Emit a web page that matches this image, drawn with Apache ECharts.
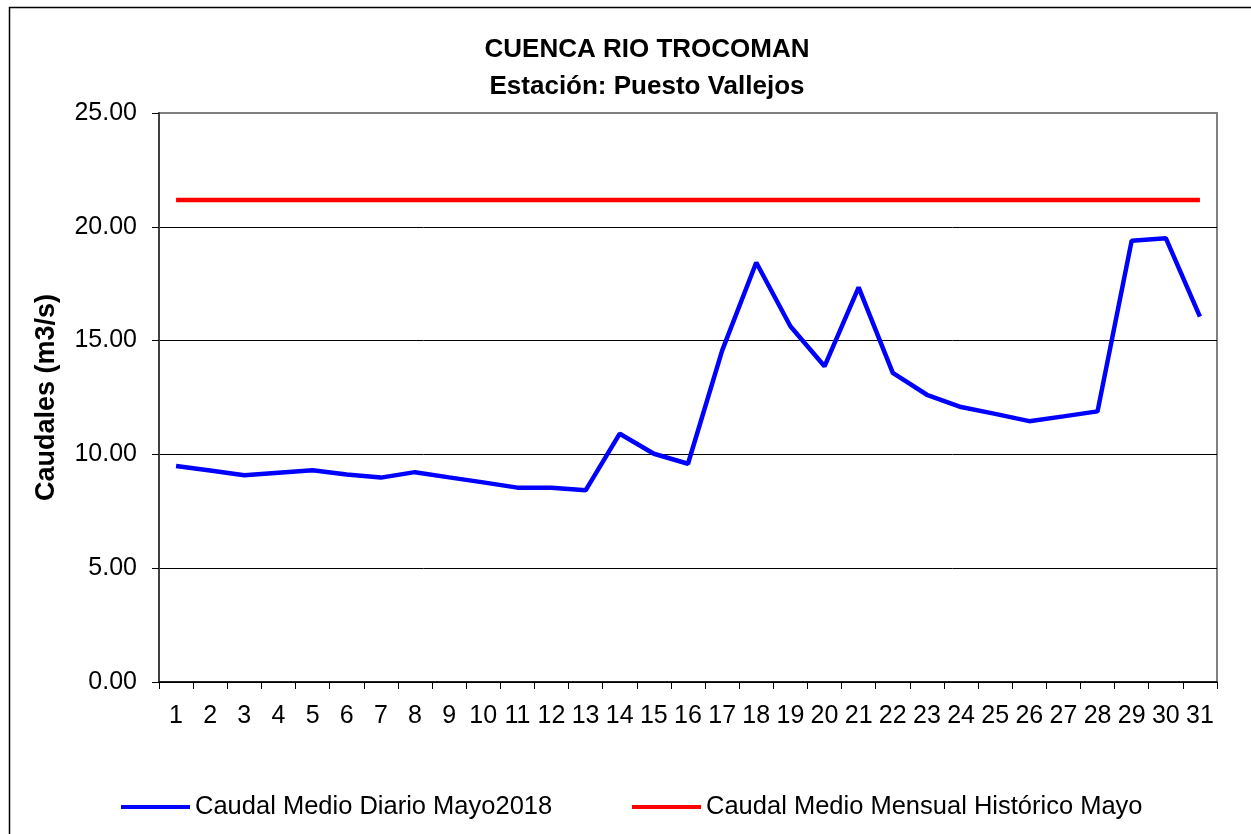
<!DOCTYPE html>
<html>
<head>
<meta charset="utf-8">
<script src="https://cdn.jsdelivr.net/npm/echarts@6/dist/echarts.min.js"></script>
<style>
  html, body { margin: 0; padding: 0; background: #fff; }
  #chart { width: 1251px; height: 834px; }
</style>
</head>
<body>
<div id="chart"></div>
<script>
// dias del mes (mayo 2018)
const days = ['1','2','3','4','5','6','7','8','9','10','11','12','13','14','15','16',
  '17','18','19','20','21','22','23','24','25','26','27','28','29','30','31'];

// caudal medio diario mayo 2018 (m3/s)
const dailyFlow = [9.49, 9.29, 9.08, 9.19, 9.30, 9.12, 8.98, 9.22, 8.99, 8.77, 8.54,
  8.53, 8.42, 10.91, 10.03, 9.59, 14.56, 18.43, 15.63, 13.87, 17.34, 13.58, 12.62,
  12.08, 11.78, 11.46, 11.67, 11.89, 19.39, 19.50, 16.05];

// caudal medio mensual historico mayo (m3/s)
const historicFlow = [21.18, 21.18, 21.18, 21.18, 21.18, 21.18, 21.18, 21.18, 21.18,
  21.18, 21.18, 21.18, 21.18, 21.18, 21.18, 21.18, 21.18, 21.18, 21.18, 21.18, 21.18,
  21.18, 21.18, 21.18, 21.18, 21.18, 21.18, 21.18, 21.18, 21.18, 21.18];

const seriesNames = ['Caudal Medio Diario Mayo2018', 'Caudal Medio Mensual Histórico Mayo'];
const titleLines = ['CUENCA RIO TROCOMAN', 'Estación: Puesto Vallejos'];

const font = '"Liberation Sans", Arial, sans-serif';
let myChart = echarts.init(document.getElementById('chart'));

let option = {
  animation: false,
  backgroundColor: '#fff',
  textStyle: { fontFamily: font },
  title: {
    text: titleLines.join('\n'),
    left: 647,
    top: 31,
    padding: 0,
    textAlign: 'center',
    textStyle: { fontFamily: font, fontSize: 26, fontWeight: 'bold', color: '#000', lineHeight: 37 }
  },
  graphic: [{
    // marco exterior del grafico
    type: 'rect',
    left: 7, top: 5,
    shape: { width: 1400, height: 1000 },
    style: { fill: 'none', stroke: '#000', lineWidth: 1.5 },
    silent: true
  }],
  legend: [
    {
      data: [seriesNames[0]],
      left: 116, top: 789,
      icon: 'rect', itemWidth: 69, itemHeight: 4, itemGap: 8,
      textStyle: { fontFamily: font, fontSize: 25.5, color: '#000' }
    },
    {
      data: [seriesNames[1]],
      left: 627, top: 789,
      icon: 'rect', itemWidth: 69, itemHeight: 4, itemGap: 8,
      textStyle: { fontFamily: font, fontSize: 25.5, color: '#000' }
    }
  ],
  grid: {
    left: 159, top: 113, width: 1058, height: 569,
    show: true, borderColor: '#808080', borderWidth: 2,
    containLabel: false
  },
  xAxis: {
    type: 'category',
    data: days,
    boundaryGap: true,
    axisLine: { lineStyle: { color: '#000', width: 1.5 } },
    axisTick: { show: true, length: 7, lineStyle: { color: '#000' } },
    axisLabel: { interval: 0, margin: 22, fontSize: 25, color: '#000', fontFamily: font }
  },
  yAxis: {
    type: 'value',
    min: 0, max: 25, interval: 5,
    name: 'Caudales (m3/s)',
    nameLocation: 'middle',
    nameGap: 99,
    nameTextStyle: { fontFamily: font, fontSize: 27, fontWeight: 'bold', color: '#000' },
    axisLine: { show: true, lineStyle: { color: '#404040', width: 2 } },
    axisTick: { show: true, length: 7, lineStyle: { color: '#000' } },
    axisLabel: {
      margin: 22, fontSize: 25, color: '#000', fontFamily: font,
      formatter: v => v.toFixed(2)
    },
    splitLine: {
      show: true,
      // la ultima linea (25) es el borde gris del area de trazado
      lineStyle: { color: ['#000', '#000', '#000', '#000', '#000', '#808080'], width: 1 }
    }
  },
  series: [
    {
      name: seriesNames[0],
      type: 'line',
      data: dailyFlow,
      symbol: 'none',
      lineStyle: { color: '#0000ff', width: 4.5 },
      itemStyle: { color: '#0000ff' },
      z: 3
    },
    {
      name: seriesNames[1],
      type: 'line',
      data: historicFlow,
      symbol: 'none',
      lineStyle: { color: '#ff0000', width: 4.5 },
      itemStyle: { color: '#ff0000' },
      z: 2
    }
  ]
};

myChart.setOption(option);
window.onresize = () => { myChart.resize() }
</script>
</body>
</html>
